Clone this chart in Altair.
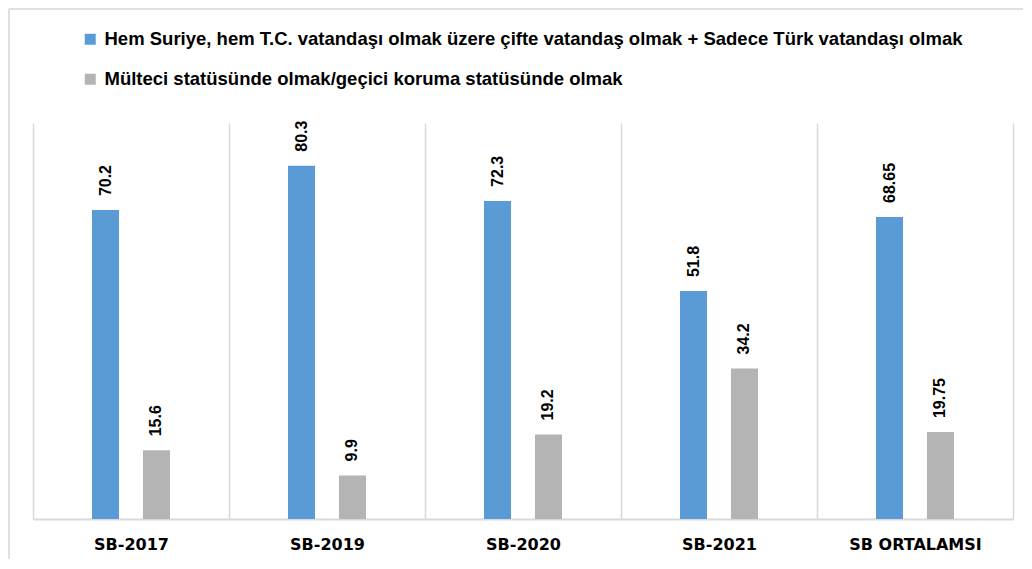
import altair as alt
import pandas as pd

categories = ["SB-2017", "SB-2019", "SB-2020", "SB-2021", "SB ORTALAMSI"]
series = [
    "Hem Suriye, hem T.C. vatandaşı olmak üzere çifte vatandaş olmak + Sadece Türk vatandaşı olmak",
    "Mülteci statüsünde olmak/geçici koruma statüsünde olmak",
]
values_blue = [70.2, 80.3, 72.3, 51.8, 68.65]
values_gray = [15.6, 9.9, 19.2, 34.2, 19.75]
colors = ["#5b9bd5", "#b4b4b4"]

rows = []
for c, b, g in zip(categories, values_blue, values_gray):
    rows.append({"cat": c, "series": series[0], "value": b, "label": f"{b:g}"})
    rows.append({"cat": c, "series": series[1], "value": g, "label": f"{g:g}"})
df = pd.DataFrame(rows)

base = alt.Chart(df).encode(
    x=alt.X(
        "cat:N",
        sort=categories,
        scale=alt.Scale(paddingInner=0, paddingOuter=0),
        axis=alt.Axis(
            title=None,
            labelAngle=0,
            grid=True,
            tickBand="extent",
            ticks=False,
            domainColor="#d9d9d9",
            domainWidth=2,
            gridColor="#d9d9d9",
            gridWidth=1.5,
            labelFont="DejaVu Sans",
            labelFontWeight="bold",
            labelFontSize=16,
            labelColor="#000000",
            labelPadding=17,
        ),
    ),
    xOffset=alt.XOffset(
        "series:N",
        sort=series,
        scale=alt.Scale(range=[59, 137], paddingInner=0.47, paddingOuter=0),
    ),
    y=alt.Y("value:Q", scale=alt.Scale(domain=[0, 90]), axis=None),
)

bars = base.mark_bar().encode(
    color=alt.Color(
        "series:N",
        sort=series,
        scale=alt.Scale(domain=series, range=colors),
        legend=alt.Legend(
            title=None,
            orient="none",
            legendX=48,
            legendY=-93,
            direction="vertical",
            symbolType="square",
            symbolSize=121,
            symbolStrokeWidth=0,
            labelFont="Liberation Sans",
            labelFontWeight="bold",
            labelFontSize=18.5,
            labelColor="#000000",
            labelLimit=2000,
            rowPadding=21,
            labelOffset=5,
        ),
    )
)

labels = base.mark_text(
    angle=270,
    align="left",
    baseline="middle",
    dx=14,
    font="Liberation Sans",
    fontWeight="bold",
    fontSize=16,
    color="#000000",
).encode(text="label:N")

frame_left = alt.Chart(df).mark_rule(color="#e0e0e0", strokeWidth=2).encode(
    x=alt.value(-24), y=alt.value(-114), y2=alt.value(440)
)
frame_top = alt.Chart(df).mark_rule(color="#e0e0e0", strokeWidth=2).encode(
    x=alt.value(-24), x2=alt.value(995), y=alt.value(-114)
)

chart = (
    alt.layer(frame_left, frame_top, bars, labels)
    .properties(
        width=980,
        height=396,
        autosize=alt.AutoSizeParams(type="none"),
        padding={"left": 25, "top": 115, "right": 10, "bottom": 40},
    )
    .configure_view(stroke=None)
)

chart.save("out.html", embed_options={"renderer": "svg", "actions": False})
